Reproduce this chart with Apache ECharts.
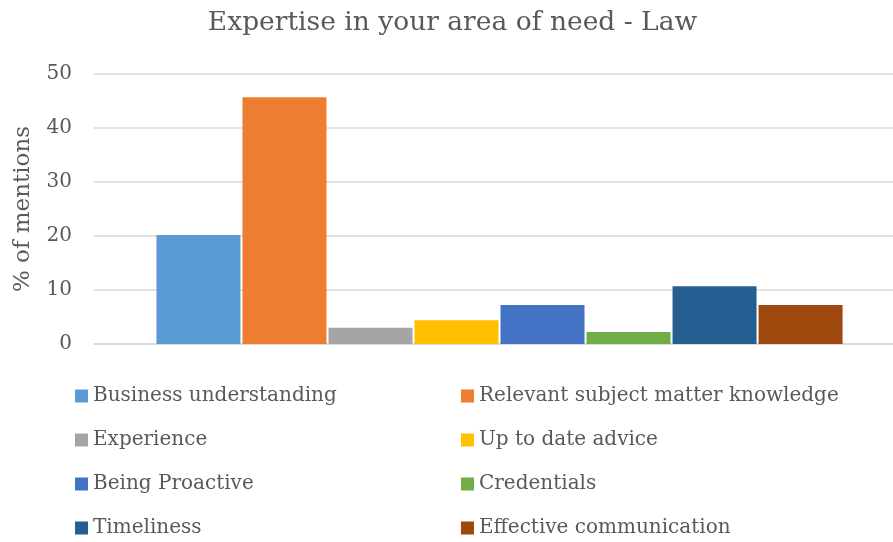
<!DOCTYPE html>
<html><head><meta charset="utf-8">
<script src="https://cdn.jsdelivr.net/npm/echarts@6/dist/echarts.min.js"></script>
<style>html,body{margin:0;padding:0;background:#fff;overflow:hidden}#c{width:905px;height:542px}</style>
</head><body><div id="c"></div>
<script>
const titleText = 'Expertise in your area of need - Law';
const yAxisName = '% of mentions';
const categories = [''];
const seriesNames = ['Business understanding','Relevant subject matter knowledge','Experience','Up to date advice','Being Proactive','Credentials','Timeliness','Effective communication'];
const seriesValues = [20.2, 45.7, 3.0, 4.4, 7.2, 2.2, 10.7, 7.2];
const seriesColors = ['#5B9BD5','#ED7D31','#A5A5A5','#FFC000','#4472C4','#70AD47','#255E91','#9E480E'];
const yTicks = {min: 0, max: 50, interval: 10};

const FONT = '"DejaVu Serif", serif';
const TXT = '#595959';
const chart = echarts.init(document.getElementById('c'), null, {renderer: 'canvas'});
const legendCommon = {
  orient: 'vertical', top: 386, itemWidth: 13, itemHeight: 13, itemGap: 24,
  icon: 'rect',
  textStyle: {fontFamily: FONT, fontSize: 20, color: TXT, lineHeight: 20, padding: [0,0,0,0]},
  padding: 0, selectedMode: false
};
chart.setOption({
  animation: false,
  title: {text: titleText, left: 'center', top: 5,
    textStyle: {fontFamily: FONT, fontSize: 26.5, fontWeight: 'normal', color: TXT}},
  legend: [
    Object.assign({}, legendCommon, {left: 75, data: seriesNames.filter((_, i) => i % 2 === 0)}),
    Object.assign({}, legendCommon, {left: 461, data: seriesNames.filter((_, i) => i % 2 === 1)})
  ],
  grid: {left: 94, right: 0, top: 74, bottom: 542 - 344, containLabel: false},
  xAxis: {type: 'category', data: categories,
    axisLine: {lineStyle: {color: '#D9D9D9', width: 1.5}}, axisTick: {show: false}, axisLabel: {show: false}},
  yAxis: {type: 'value', min: yTicks.min, max: yTicks.max, interval: yTicks.interval,
    name: yAxisName, nameLocation: 'middle', nameGap: 59, nameMoveOverlap: false,
    nameTextStyle: {fontFamily: FONT, fontSize: 23, color: TXT},
    axisLine: {show: false}, axisTick: {show: false},
    axisLabel: {fontFamily: FONT, fontSize: 20, color: TXT, margin: 22},
    splitLine: {lineStyle: {color: '#D9D9D9', width: 1.5}}},
  series: seriesNames.map((n, i) => ({
    name: n, type: 'bar', data: [seriesValues[i]], barWidth: 84, barGap: '2.4%',
    itemStyle: {color: seriesColors[i]}
  }))
});
</script></body></html>
